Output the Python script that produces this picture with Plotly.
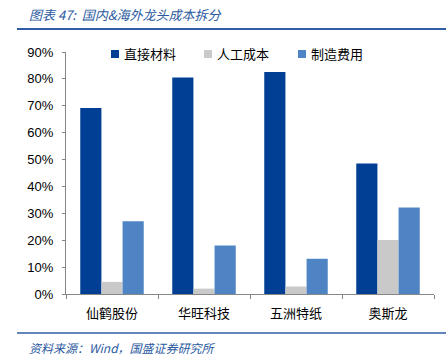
import plotly.graph_objects as go

categories = ["仙鹤股份", "华旺科技", "五洲特纸", "奥斯龙"]
series_names = ["直接材料", "人工成本", "制造费用"]
direct_material = [0.692, 0.805, 0.826, 0.485]
labor_cost = [0.045, 0.020, 0.028, 0.201]
manufacturing = [0.271, 0.180, 0.131, 0.322]
tick_vals = [0, 0.1, 0.2, 0.3, 0.4, 0.5, 0.6, 0.7, 0.8, 0.9]
tick_text = ["0%", "10%", "20%", "30%", "40%", "50%", "60%", "70%", "80%", "90%"]
title_text = "图表 47:  国内&海外龙头成本拆分"
source_text = "资料来源：Wind，国盛证券研究所"

colors = ["#003F93", "#C9C9C9", "#4F84C4"]
series_values = [direct_material, labor_cost, manufacturing]

W, H = 446, 358
ml, mr, mt, mb = 66, 12, 52, 64
pw = W - ml - mr
ph = H - mt - mb

def px(x):
    return (x - ml) / pw

def py(y):
    return (H - mb - y) / ph

fig = go.Figure()
for name, vals, c in zip(series_names, series_values, colors):
    fig.add_trace(go.Bar(x=categories, y=vals, name=name, showlegend=False,
                         marker=dict(color=c, line=dict(width=0))))

fig.update_layout(
    width=W, height=H,
    margin=dict(l=ml, r=mr, t=mt, b=mb),
    paper_bgcolor="white", plot_bgcolor="white",
    barmode="group", bargap=0.31, bargroupgap=0,
    font=dict(family="Liberation Sans, Arial, Noto Sans CJK SC", size=13, color="#000000"),
    showlegend=False,
    xaxis=dict(
        type="category", showline=True, linecolor="#868686", linewidth=1,
        ticks="outside", tickson="boundaries", ticklen=4, tickcolor="#868686",
        tickfont=dict(family="Noto Sans CJK SC", size=13, color="#000000"),
        showgrid=False, zeroline=False, ticklabelstandoff=7,
    ),
    yaxis=dict(
        range=[0, 0.9], tickvals=tick_vals, ticktext=tick_text,
        showline=True, linecolor="#868686", linewidth=1,
        ticks="outside", ticklen=3, tickcolor="#868686",
        tickfont=dict(family="Liberation Sans, Arial", size=13, color="#000000"),
        showgrid=False, zeroline=False, ticklabelstandoff=6,
    ),
)

# custom legend (swatch + label)
legend_swatch_x = [111, 204, 298]
for name, c, sx in zip(series_names, colors, legend_swatch_x):
    fig.add_shape(type="rect", xref="paper", yref="paper",
                  x0=px(sx), x1=px(sx + 8), y0=py(58), y1=py(50),
                  fillcolor=c, line=dict(width=0))
    fig.add_annotation(text=name, xref="paper", yref="paper", x=px(sx + 11), y=py(54),
                       xanchor="left", yanchor="middle", showarrow=False,
                       font=dict(family="Noto Sans CJK SC", size=13, color="#000000"))

fig.add_annotation(
    text=title_text, xref="paper", yref="paper", x=px(27), y=py(14),
    xanchor="left", yanchor="middle", showarrow=False,
    font=dict(family="Noto Sans CJK SC", size=13, color="#2B5AA0", style="italic"),
)
fig.add_annotation(
    text=source_text, xref="paper", yref="paper", x=px(27), y=py(347),
    xanchor="left", yanchor="middle", showarrow=False,
    font=dict(family="Noto Sans CJK SC", size=12, color="#2B5AA0", style="italic"),
)
fig.add_shape(type="line", xref="paper", yref="paper", x0=px(17), x1=px(446),
              y0=py(29), y1=py(29), line=dict(color="#2E5DA6", width=2))
fig.add_shape(type="line", xref="paper", yref="paper", x0=px(17), x1=px(446),
              y0=py(333), y1=py(333), line=dict(color="#2E5DA6", width=1.5))

fig.write_html("out.html", config={"displayModeBar": False},
               post_script="document.body.style.margin='0px';document.body.style.overflow='hidden';")
